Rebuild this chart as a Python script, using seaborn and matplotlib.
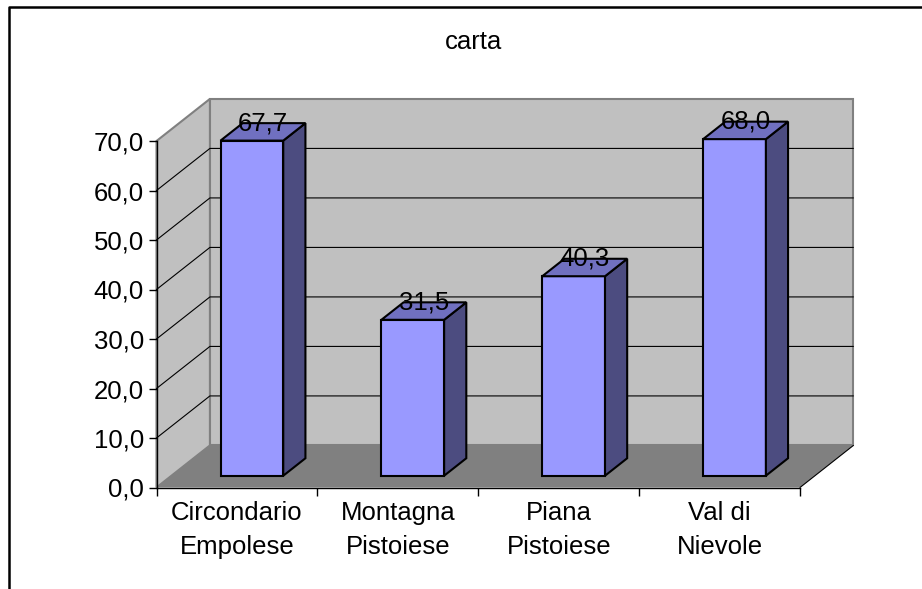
import numpy as np
import pandas as pd
import matplotlib
matplotlib.use('Agg')
import matplotlib.pyplot as plt
from matplotlib.patches import Polygon
from matplotlib.lines import Line2D
import seaborn as sns

sns.set_theme(style='white')
plt.rcParams['font.family'] = ['Liberation Sans', 'DejaVu Sans']
plt.rcParams['text.color'] = 'black'
plt.rcParams['xtick.color'] = 'black'
plt.rcParams['ytick.color'] = 'black'

# Data
title = 'carta'
regions = ['Circondario\nEmpolese', 'Montagna\nPistoiese', 'Piana\nPistoiese', 'Val di\nNievole']
values = [67.7, 31.5, 40.3, 68.0]
yticks = [0, 10, 20, 30, 40, 50, 60, 70]

df = pd.DataFrame({'region': regions, 'value': values})

# fake 3D (Excel style): depth of the box and where the bars sit in it
depth_x, depth_y = 0.332, 8.5
bar_front, bar_back = 0.28, 0.695
wall_c, floor_c, edge_c = '#c0c0c0', '#808080', '#808080'
front_c, side_c, top_c = '#9999ff', '#4c4c80', '#7070c0'
fs = 18.5

fig = plt.figure(figsize=(9.22, 5.89), dpi=100)
ax = fig.add_axes([156.5 / 922, 101.5 / 589, 643.5 / 922, 346.5 / 589])
ax.set_facecolor('none')

sns.barplot(data=df, x='region', y='value', color=front_c, saturation=1,
            width=0.39, edgecolor='black', linewidth=1.5, ax=ax, zorder=3)
bars = list(ax.containers[0])

x0, x1 = -0.5, len(regions) - 0.5
ytop = yticks[-1]

# back wall, side wall, floor
ax.add_patch(Polygon([(x0 + depth_x, depth_y), (x1 + depth_x, depth_y),
                      (x1 + depth_x, ytop + depth_y), (x0 + depth_x, ytop + depth_y)],
                     fc=wall_c, ec=edge_c, lw=1.5, clip_on=False, zorder=0))
ax.add_patch(Polygon([(x0, 0), (x0 + depth_x, depth_y),
                      (x0 + depth_x, ytop + depth_y), (x0, ytop)],
                     fc=wall_c, ec=edge_c, lw=1.5, clip_on=False, zorder=0))
ax.add_patch(Polygon([(x0, 0), (x1, 0), (x1 + depth_x, depth_y), (x0 + depth_x, depth_y)],
                     fc=floor_c, ec='none', clip_on=False, zorder=0.5))
ax.plot([x1, x1 + depth_x], [0, depth_y], color='black', lw=0.8, clip_on=False, zorder=1)

# gridlines on side wall and back wall
for t in yticks[1:-1]:
    ax.plot([x0, x0 + depth_x, x1 + depth_x], [t, t + depth_y, t + depth_y],
            color='black', lw=0.8, clip_on=False, zorder=1)

# shift bars into the box and add side/top faces
ox, oy = bar_front * depth_x, bar_front * depth_y
bx, by = (bar_back - bar_front) * depth_x, (bar_back - bar_front) * depth_y
for bar, v in zip(bars, values):
    x, w, h = bar.get_x(), bar.get_width(), bar.get_height()
    bar.set_xy((x + ox, oy))
    bar.set_clip_on(False)
    xl, xr = x + ox, x + ox + w
    ax.add_patch(Polygon([(xr, oy), (xr + bx, oy + by), (xr + bx, h + oy + by), (xr, h + oy)],
                         fc=side_c, ec='black', lw=1.5, clip_on=False, zorder=3))
    ax.add_patch(Polygon([(xl, h + oy), (xr, h + oy), (xr + bx, h + oy + by), (xl + bx, h + oy + by)],
                         fc=top_c, ec='black', lw=1.5, clip_on=False, zorder=3))
    ax.text(xl + w / 2 + bx / 2, h + oy + by - 1.4, f'{v:.1f}'.replace('.', ','),
            ha='center', va='baseline', fontsize=fs, zorder=5, clip_on=False)

ax.set_xlim(x0, x1)
ax.set_ylim(0, ytop)
ax.set_xlabel('')
ax.set_ylabel('')

ax.set_yticks(yticks)
ax.set_yticklabels([f'{t:.1f}'.replace('.', ',') for t in yticks])
ax.set_xticks(np.arange(len(regions) + 1) - 0.5)
ax.set_xticklabels([])
ax.set_xticks(range(len(regions)), minor=True)
ax.set_xticklabels(regions, minor=True)
plt.setp(ax.get_xticklabels(minor=True), linespacing=1.5)
ax.tick_params(axis='both', which='major', direction='out', length=6, width=1,
               color='black', labelcolor='black', labelsize=fs, pad=3, left=True, bottom=True)
ax.tick_params(axis='x', which='minor', length=0, pad=10, labelsize=fs,
               labelcolor='black', bottom=True)

for s in ['top', 'right']:
    ax.spines[s].set_visible(False)
for s in ['left', 'bottom']:
    ax.spines[s].set_color('black')
    ax.spines[s].set_linewidth(1)

fig.text(473 / 922, 1 - 49 / 589, title, ha='center', va='baseline', fontsize=fs)

# chart frame (only top and left edges show)
fig.add_artist(Line2D([8.5 / 922, 8.5 / 922, 1], [0, 1 - 6.5 / 589, 1 - 6.5 / 589],
                      transform=fig.transFigure, color='black', lw=1.8))

fig.savefig('out.png', dpi=100)
